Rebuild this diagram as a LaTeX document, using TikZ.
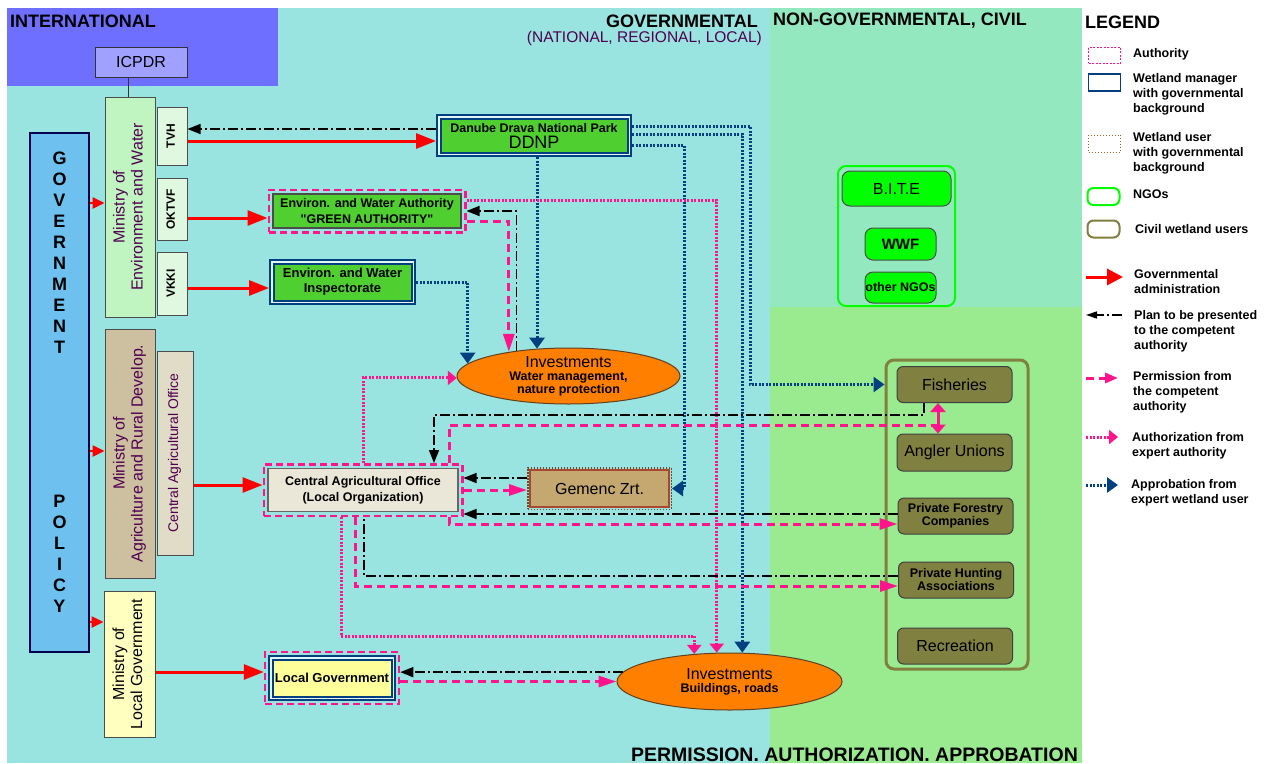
\documentclass[tikz,border=0pt]{standalone}
\usepackage{fontspec}
\setmainfont{Liberation Sans}
\usetikzlibrary{arrows.meta,fit,shapes.geometric}

\definecolor{cyanbg}{RGB}{153,228,224}
\definecolor{intbg}{RGB}{110,110,255}
\definecolor{ngobg}{RGB}{148,232,192}
\definecolor{civbg}{RGB}{154,234,144}
\definecolor{icpdrfill}{RGB}{160,160,255}
\definecolor{govfill}{RGB}{110,192,238}
\definecolor{envfill}{RGB}{192,244,192}
\definecolor{subfill}{RGB}{224,248,224}
\definecolor{agrfill}{RGB}{204,192,160}
\definecolor{cagfill}{RGB}{224,220,200}
\definecolor{locfill}{RGB}{255,255,192}
\definecolor{wgreen}{RGB}{80,208,48}
\definecolor{wblue}{RGB}{0,64,128}
\definecolor{invorange}{RGB}{255,128,0}
\definecolor{caofill}{RGB}{234,230,216}
\definecolor{gemfill}{RGB}{196,168,112}
\definecolor{gemline}{RGB}{168,72,48}
\definecolor{lgfill}{RGB}{255,255,153}
\definecolor{ngogreen}{RGB}{0,255,0}
\definecolor{civolive}{RGB}{128,128,64}
\definecolor{pmag}{RGB}{255,20,140}
\definecolor{dpurple}{RGB}{80,0,80}

\newcommand{\fsz}[2]{\fontsize{#1}{#2}\selectfont}
\newcommand{\vlab}[1]{\rotatebox{90}{\begin{tabular}{@{}c@{}}#1\end{tabular}}}

\tikzset{
  hdr/.style={inner sep=0pt, font=\fsz{18}{20}\bfseries},
  plainbox/.style={draw=black!70, line width=1pt, inner sep=1pt},
  minbox/.style={plainbox, fill=#1, text=dpurple, font=\fsz{16}{18}},
  subbox/.style={plainbox, fill=subfill, font=\fsz{12}{14}\bfseries},
  wman/.style={draw=wblue, line width=2pt, double=white!70!cyanbg, double distance=1.5pt,
    outer sep=2.75pt, inner sep=0pt, align=center},
  authfit/.style={draw=pmag, line width=2.5pt, dash pattern=on 7pt off 4pt, inner sep=3.5pt},
  userfit/.style={draw=brown!60!black, line width=1.5pt, dash pattern=on 1.5pt off 1.5pt, inner sep=1.5pt},
  inv/.style={ellipse, draw=black!50!brown, line width=1pt, fill=invorange, inner sep=-3pt,
    minimum width=223pt, minimum height=56pt, align=center, font=\fsz{12.5}{13}\bfseries},
  ngo/.style={draw=black!70, line width=1pt, fill=ngogreen, rounded corners=8pt, inner sep=0pt},
  civ/.style={draw=black!75, line width=1pt, fill=civolive, rounded corners=6pt, inner sep=1pt,
    minimum width=115pt, minimum height=36pt, align=center},
  govline/.style={draw=red, line width=3pt, -{Triangle[length=20pt,width=15pt]}},
  govshort/.style={govline, line width=2.5pt, -{Triangle[length=12pt,width=11pt]}},
  planline/.style={draw=black, line width=1.5pt, dash pattern=on 10pt off 3pt on 2pt off 3pt,
    -{Triangle[length=13pt,width=10pt]}},
  permline/.style={draw=pmag, line width=3pt, dash pattern=on 8pt off 5pt,
    -{Triangle[length=18pt,width=11pt]}},
  permdbl/.style={draw=pmag, line width=3pt,
    {Triangle[length=9pt,width=15pt]}-{Triangle[length=9pt,width=15pt]}},
  authline/.style={draw=pmag, line width=3pt, dash pattern=on 2pt off 1.5pt,
    -{Triangle[length=9pt,width=14pt]}},
  apprline/.style={draw=wblue, line width=3pt, dash pattern=on 2pt off 1.5pt,
    -{Triangle[length=11pt,width=15pt]}},
  lgtext/.style={anchor=west, align=left, inner sep=0pt, font=\fsz{12.5}{15.2}\bfseries}
}

\begin{document}
\begin{tikzpicture}[x=1pt, y=-1pt]
\useasboundingbox (0,0) rectangle (1268,763);
\fill[white] (0,0) rectangle (1268,763);
\fill[cyanbg] (7,8) rectangle (770,763);
\fill[intbg] (7,8) rectangle (278,86);
\fill[ngobg] (770,8) rectangle (1082,307);
\fill[civbg] (770,307) rectangle (1082,763);

\node[hdr, anchor=west] at (10, 21) (intl) {INTERNATIONAL};
\node[hdr, anchor=east] at (758, 21) (govt) {GOVERNMENTAL};
\node[anchor=east, inner sep=0pt, text=dpurple, font=\fsz{15.5}{18}] at (762, 38) (govsub) {(NATIONAL, REGIONAL, LOCAL)};
\node[hdr, anchor=west] at (773, 21) (ngov) {NON-GOVERNMENTAL, CIVIL};
\node[hdr, anchor=east, font=\fsz{19.5}{20}\bfseries] at (1078, 754.5) (paa) {PERMISSION. AUTHORIZATION. APPROBATION};
\node[hdr, anchor=west] at (1085, 22) (leg) {LEGEND};

\node[plainbox, fill=icpdrfill, draw=black!80, minimum width=92pt, minimum height=30pt, font=\fsz{16}{18}] at (141, 62) (icpdr) {ICPDR};
\node[plainbox, fill=govfill, draw=black!70!blue, line width=1.5pt, minimum width=59pt, minimum height=519pt] at (59.5, 392.5) (gov) {};
\node[align=center, inner sep=0pt, font=\fsz{18}{21}\bfseries] at (59.5, 382.5) (govtxt) {G\\O\\V\\E\\R\\N\\M\\E\\N\\T\\[133pt]P\\O\\L\\I\\C\\Y};

\node[minbox=envfill, minimum width=50pt, minimum height=220pt] at (130, 207) (menv) {\vlab{Ministry of\\Environment and Water}};
\node[subbox, minimum width=30pt, minimum height=58pt] at (172, 136) (tvh) {\vlab{TVH}};
\node[subbox, minimum width=30pt, minimum height=62pt] at (172, 209) (oktvf) {\vlab{OKTVF}};
\node[subbox, minimum width=30pt, minimum height=63pt] at (172, 283.5) (vkki) {\vlab{VKKI}};
\node[minbox=agrfill, minimum width=50pt, minimum height=249pt] at (130, 453.5) (magr) {\vlab{Ministry of\\Agriculture and Rural Develop.}};
\node[minbox=cagfill, font=\fsz{14}{16}, minimum width=36pt, minimum height=204pt] at (175, 453) (cagv) {\vlab{Central Agricultural Office}};
\node[minbox=locfill, text=black, minimum width=51pt, minimum height=146pt] at (129.5, 664) (mloc) {\vlab{Ministry of\\Local Government}};

\node[wman, fill=wgreen, minimum width=190.5pt, minimum height=37.5pt, font=\fsz{12.5}{16}\bfseries] at (534, 135.5) (ddnp) {Danube Drava National Park\\{\fsz{18}{18}\mdseries DDNP}};
\node[plainbox, fill=wgreen, line width=1.5pt, minimum width=188pt, minimum height=34pt, align=center, font=\fsz{12.5}{16}\bfseries] at (367, 211) (ga) {Environ. and Water Authority\\\textquotedbl GREEN AUTHORITY\textquotedbl};
\node[authfit, fit=(ga)] (gaA) {};
\node[wman, fill=wgreen, minimum width=141.5pt, minimum height=40.5pt, font=\fsz{13}{15}\bfseries] at (342.5, 282) (insp) {Environ. and Water\\Inspectorate};
\node[inv] at (568.5, 376) (inv1) {{\fsz{16}{16}\mdseries Investments}\\Water management,\\nature protection};
\node[plainbox, fill=caofill, draw=black!60, line width=1.5pt, minimum width=190pt, minimum height=43pt, align=center, font=\fsz{12.5}{16}\bfseries] at (363, 490) (cao) {Central Agricultural Office\\(Local Organization)};
\node[authfit, fit=(cao)] (caoA) {};
\node[plainbox, fill=gemfill, draw=gemline, line width=1.5pt, minimum width=139pt, minimum height=37pt, font=\fsz{16}{18}] at (599.5, 488.5) (gem) {Gemenc Zrt.};
\node[userfit, fit=(gem)] (gemA) {};
\node[wman, fill=lgfill, minimum width=122.5pt, minimum height=40.5pt, font=\fsz{13}{15}\bfseries] at (332, 678) (lg) {Local Government};
\node[authfit, fit=(lg), inner sep=3pt] (lgA) {};
\node[inv, minimum width=225pt, minimum height=57pt] at (729.5, 681.5) (inv2) {{\fsz{16}{16}\mdseries Investments}\\Buildings, roads};

\node[draw=ngogreen, line width=2pt, rounded corners=8pt, minimum width=117pt, minimum height=140pt] at (896.5, 236) (ngobox) {};
\node[ngo, minimum width=109pt, minimum height=35pt, font=\fsz{16}{18}] at (896.5, 188.5) (bite) {B.I.T.E};
\node[ngo, minimum width=71pt, minimum height=32pt, font=\fsz{15}{18}\bfseries] at (900.5, 244) (wwf) {WWF};
\node[ngo, minimum width=71pt, minimum height=31pt, font=\fsz{12.5}{14}\bfseries] at (900.5, 287.5) (ongo) {other NGOs};

\node[draw=civolive, line width=3pt, rounded corners=8pt, minimum width=142pt, minimum height=309pt] at (957, 514.5) (civbox) {};
\node[civ, font=\fsz{16}{18}] at (954.5, 384.5) (fish) {Fisheries};
\node[civ, minimum height=37pt, font=\fsz{16}{18}] at (954.5, 452.5) (angl) {Angler Unions};
\node[civ, font=\fsz{12.5}{13}\bfseries] at (955.5, 516) (forest) {Private Forestry\\Companies};
\node[civ, font=\fsz{12.5}{13}\bfseries] at (956, 580) (hunt) {Private Hunting\\Associations};
\node[civ, font=\fsz{16}{18}] at (955, 646) (recr) {Recreation};
\coordinate (fa) at (938, 425);

\draw[black!80, line width=1pt] (icpdr.south -| 128,0) -- (menv.north -| 128,0);
\draw[govshort] (gov.east |- 0,203) -- (menv.west |- 0,203);
\draw[govshort] (gov.east |- 0,451) -- (magr.west |- 0,451);
\draw[govshort] (gov.east |- 0,622) -- (mloc.west |- 0,622);
\draw[govline] (tvh.east |- 0,141) -- (ddnp.west |- 0,141);
\draw[govline] (oktvf.east |- 0,218) -- (gaA.west |- 0,218);
\draw[govline] (vkki.east |- 0,288) -- (insp.west |- 0,288);
\draw[govline] (cagv.east |- 0,485) -- (caoA.west |- 0,485);
\draw[govline] (mloc.east |- 0,672) -- (lgA.west |- 0,672);

\draw[apprline] (ddnp.south -| inv1.139) -- (inv1.139);
\draw[apprline] (insp.east) -| (inv1.173);
\draw[apprline] (ddnp.east |- 0,126) -- (750,126) |- (civbox.west |- fish);
\draw[apprline] (ddnp.east |- 0,134) -| (inv2.66);
\draw[apprline] (ddnp.east |- 0,145) -- (684,145) |- (gemA.east);

\draw[authline] (gaA.east |- 0,200) -| (inv2.114);
\draw[authline] (caoA.north) |- (inv1.181);
\draw[authline] (caoA.south -| 341,0) |- (inv2.142 |- 0,636) -- (inv2.142);

\draw[planline] (ddnp.west |- 0,129) -- (tvh.east |- 0,129);
\draw[planline] (inv1.154) |- (gaA.east);
\draw[planline] (fish.south -| 924,0) -- (924,415) -| (caoA.north -| 434,0);
\draw[planline] (gemA.west |- 0,478) -- (caoA.east |- 0,478);
\draw[planline] (forest.west |- 0,514) -- (caoA.east |- 0,514);
\draw[planline, -] (hunt.west |- 0,576) -| (caoA.south -| 364,0);
\draw[planline] (inv2.175) -- (lgA.east |- inv2.175);

\draw[permline] (gaA.east |- 0,221) -| (inv1.158);
\draw[permline, -] (caoA.north -| 449,0) |- (fa);
\draw[permline] (caoA.east |- 0,490) -- (gemA.west |- 0,490);
\draw[permline] (caoA.south -| 449,0) |- (forest.west |- 0,524);
\draw[permline] (caoA.south -| 355,0) |- (hunt.west |- 0,586);
\draw[permline] (lgA.east |- inv2.west) -- (inv2.west);
\draw[permdbl] (fish.south -| 938,0) -- (angl.north -| 938,0);

\node[draw=pmag, line width=1pt, dash pattern=on 2pt off 1.5pt, minimum width=32pt, minimum height=16pt] at (1104.5, 55) (lauth) {};
\node[lgtext] at (1133, 54) (lauthT) {Authority};
\node[draw=wblue, line width=1.5pt, minimum width=32pt, minimum height=17pt] at (1104.5, 82.5) (lman) {};
\node[lgtext] at (1133, 94.5) (lmanT) {Wetland manager\\with governmental\\background};
\node[draw=brown!80!black, dotted, line width=1pt, minimum width=32pt, minimum height=17pt] at (1104.5, 143.5) (luser) {};
\node[lgtext] at (1133, 153.5) (luserT) {Wetland user\\with governmental\\background};
\node[draw=ngogreen, line width=2pt, rounded corners=6pt, minimum width=32pt, minimum height=17pt] at (1103.5, 196.5) (lngo) {};
\node[lgtext] at (1133, 194) (lngoT) {NGOs};
\node[draw=civolive, line width=2pt, rounded corners=6pt, minimum width=32pt, minimum height=17pt] at (1103.5, 229) (lciv) {};
\node[lgtext] at (1135, 229) (lcivT) {Civil wetland users};
\draw[govline, -{Triangle[length=16pt,width=16pt]}] (1086,277) -- (1123,277);
\node[lgtext] at (1134, 281.5) (lgovT) {Governmental\\administration};
\draw[planline, -{Triangle[length=11pt,width=7pt]}] (1122,315) -- (1086,315);
\node[lgtext] at (1134, 331.5) (lplanT) {Plan to be presented\\to the competent\\authority};
\draw[permline, -{Triangle[length=13pt,width=10pt]}] (1086,378) -- (1118,378);
\node[lgtext] at (1133, 392) (lpermT) {Permission from\\the competent\\authority};
\draw[authline] (1086,437) -- (1118,437);
\node[lgtext] at (1132, 445.5) (lauthzT) {Authorization from\\expert authority};
\draw[apprline] (1086,485) -- (1118,485);
\node[lgtext] at (1131, 492.5) (lapprT) {Approbation from\\expert wetland user};
\end{tikzpicture}
\end{document}
